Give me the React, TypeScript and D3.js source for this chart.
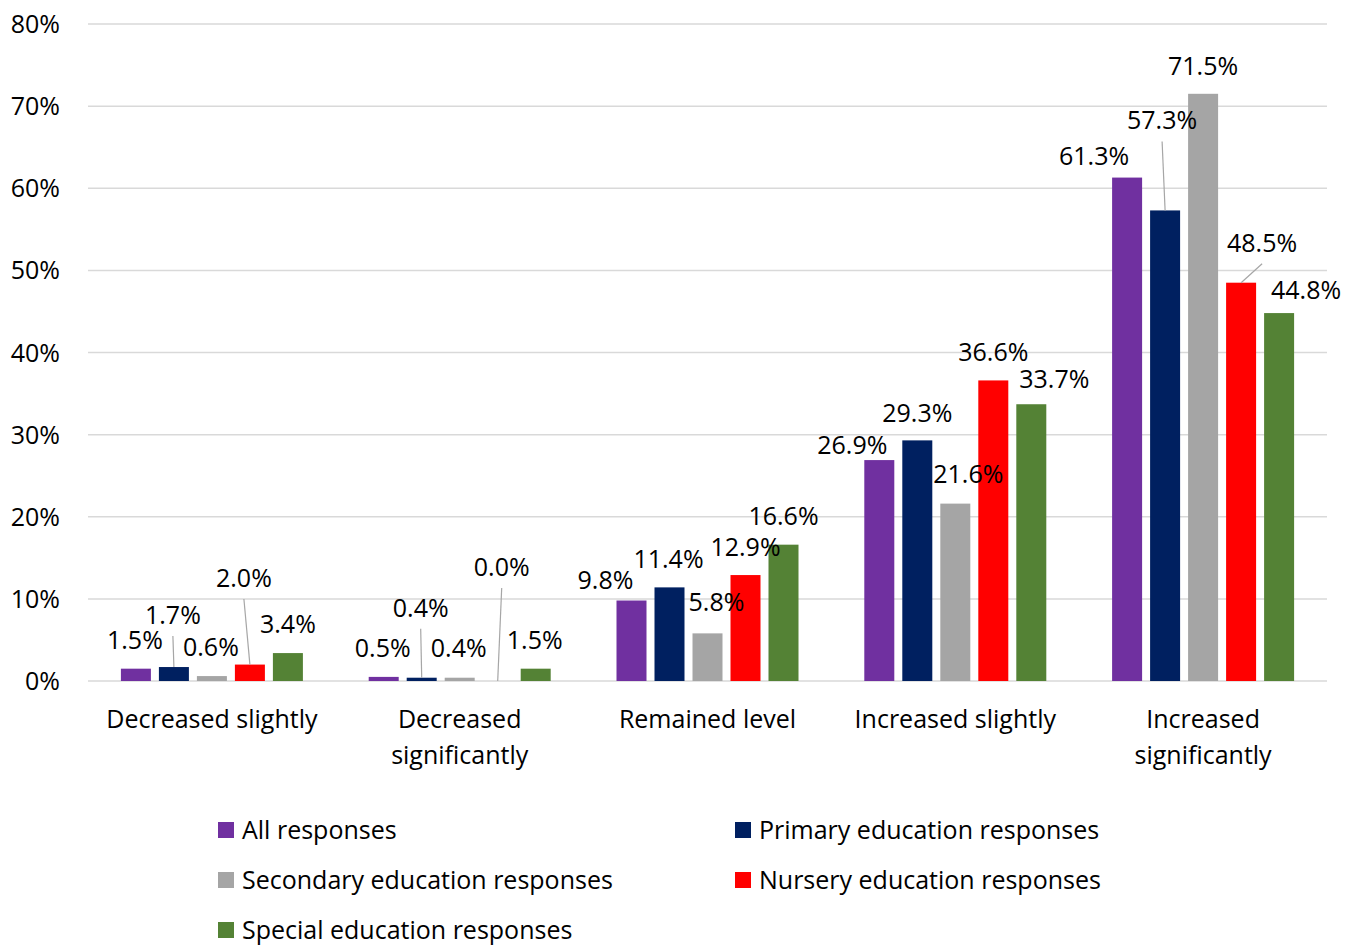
import React from "react";
import * as d3 from "d3";

// Survey answers, grouped by category, one array per respondent group (values in %)
const categories = [
  "Decreased slightly",
  "Decreased significantly",
  "Remained level",
  "Increased slightly",
  "Increased significantly",
];

const seriesNames = [
  "All responses",
  "Primary education responses",
  "Secondary education responses",
  "Nursery education responses",
  "Special education responses",
];

const allResponses = [1.5, 0.5, 9.8, 26.9, 61.3];
const primaryResponses = [1.7, 0.4, 11.4, 29.3, 57.3];
const secondaryResponses = [0.6, 0.4, 5.8, 21.6, 71.5];
const nurseryResponses = [2.0, 0.0, 12.9, 36.6, 48.5];
const specialResponses = [3.4, 1.5, 16.6, 33.7, 44.8];

const seriesValues = [
  allResponses,
  primaryResponses,
  secondaryResponses,
  nurseryResponses,
  specialResponses,
];

const yTicks = [0, 10, 20, 30, 40, 50, 60, 70, 80];

const colors = ["#7030a0", "#002060", "#a5a5a5", "#ff0000", "#548235"];

// Hand-placed data label offsets (px) from the top centre of each bar to the label baseline
const labelOffsets: [number, number][][] = [
  [[-1, -20], [-1, -20], [-26, -11.5], [-27, -6], [-33, -12.6]],
  [[-1, -43], [-1, -61], [-1, -19.4], [0, -18.4], [-3, -81]],
  [[-1, -20], [-1, -20.7], [9, -22.4], [13, -20.6], [0, -19]],
  [[-6, -77.6], [4, -105], [0, -19], [0, -19.4], [21, -31]],
  [[0, -20], [-1, -20], [0, -19.7], [23, -16], [27, -14]],
];

// Labels moved away from their bars get a leader line: [series, category]
const leaders: [number, number][] = [
  [1, 0],
  [1, 1],
  [3, 0],
  [3, 1],
  [1, 4],
  [3, 4],
];

const FONT = "'Open Sans', Lato, sans-serif";
const FS = 25;

export default function App() {
  const width = 1360;
  const height = 945;
  const plot = { left: 88, right: 1327, top: 24, bottom: 681 };

  const x0 = d3
    .scaleBand<string>()
    .domain(categories)
    .range([plot.left, plot.right])
    .paddingInner(0)
    .paddingOuter(0);

  const groupW = x0.bandwidth();
  const barsSpan = 182;
  const inner = (groupW - barsSpan) / 2;
  const x1 = d3
    .scaleBand<number>()
    .domain(d3.range(seriesNames.length))
    .range([inner, inner + barsSpan])
    .paddingInner(8 / 38)
    .paddingOuter(0);

  const y = d3.scaleLinear().domain([0, 80]).range([plot.bottom, plot.top]);

  const fmt = (v: number) => `${v.toFixed(1)}%`;

  const wrap = (label: string) => {
    if (label.length <= 20) return [label];
    const i = label.indexOf(" ");
    return [label.slice(0, i), label.slice(i + 1)];
  };

  const legendCols = [218, 735];
  const legendRows = [830, 880, 930];

  return (
    <svg
      width={width}
      height={height}
      style={{ position: "absolute", left: 0, top: 0, background: "#fff" }}
      fontFamily={FONT}
      fontSize={FS}
    >
      {/* gridlines */}
      {yTicks.map((t) => (
        <line
          key={`g${t}`}
          x1={plot.left}
          x2={plot.right}
          y1={y(t)}
          y2={y(t)}
          stroke="#d9d9d9"
          strokeWidth={1.5}
        />
      ))}
      {/* y tick labels */}
      {yTicks.map((t) => (
        <text key={`yt${t}`} x={60} y={y(t) + 9} textAnchor="end" fill="#000">
          {`${t}%`}
        </text>
      ))}

      {/* bars */}
      {categories.map((cat, c) => (
        <g key={cat} transform={`translate(${x0(cat)},0)`}>
          {seriesValues.map((vals, s) => (
            <rect
              key={s}
              x={x1(s)}
              y={y(vals[c])}
              width={x1.bandwidth()}
              height={y(0) - y(vals[c])}
              fill={colors[s]}
            />
          ))}
        </g>
      ))}

      {/* leader lines */}
      {leaders.map(([s, c]) => {
        const v = seriesValues[s][c];
        const bx = (x0(categories[c]) as number) + (x1(s) as number) + x1.bandwidth() / 2;
        const by = y(v);
        const [dx, dy] = labelOffsets[s][c];
        return (
          <line
            key={`l${s}-${c}`}
            x1={bx + dx}
            y1={by + dy + 12}
            x2={bx}
            y2={by}
            stroke="#a6a6a6"
            strokeWidth={1.2}
          />
        );
      })}

      {/* data labels */}
      {categories.map((cat, c) =>
        seriesValues.map((vals, s) => {
          const bx = (x0(cat) as number) + (x1(s) as number) + x1.bandwidth() / 2;
          const by = y(vals[c]);
          const [dx, dy] = labelOffsets[s][c];
          return (
            <text
              key={`dl${s}-${c}`}
              x={bx + dx}
              y={by + dy}
              textAnchor="middle"
              fill="#000"
            >
              {fmt(vals[c])}
            </text>
          );
        })
      )}

      {/* category labels */}
      {categories.map((cat) => {
        const cx = (x0(cat) as number) + groupW / 2;
        return (
          <text key={`c${cat}`} x={cx} y={728} textAnchor="middle" fill="#000">
            {wrap(cat).map((line, i) => (
              <tspan key={i} x={cx} dy={i === 0 ? 0 : 36}>
                {line}
              </tspan>
            ))}
          </text>
        );
      })}

      {/* legend */}
      {seriesNames.map((name, s) => {
        const lx = legendCols[s % 2];
        const ly = legendRows[Math.floor(s / 2)];
        return (
          <g key={`lg${s}`}>
            <rect x={lx} y={ly - 8} width={16} height={16} fill={colors[s]} />
            <text x={lx + 24} y={ly + 8.5} fill="#000">
              {name}
            </text>
          </g>
        );
      })}
    </svg>
  );
}
